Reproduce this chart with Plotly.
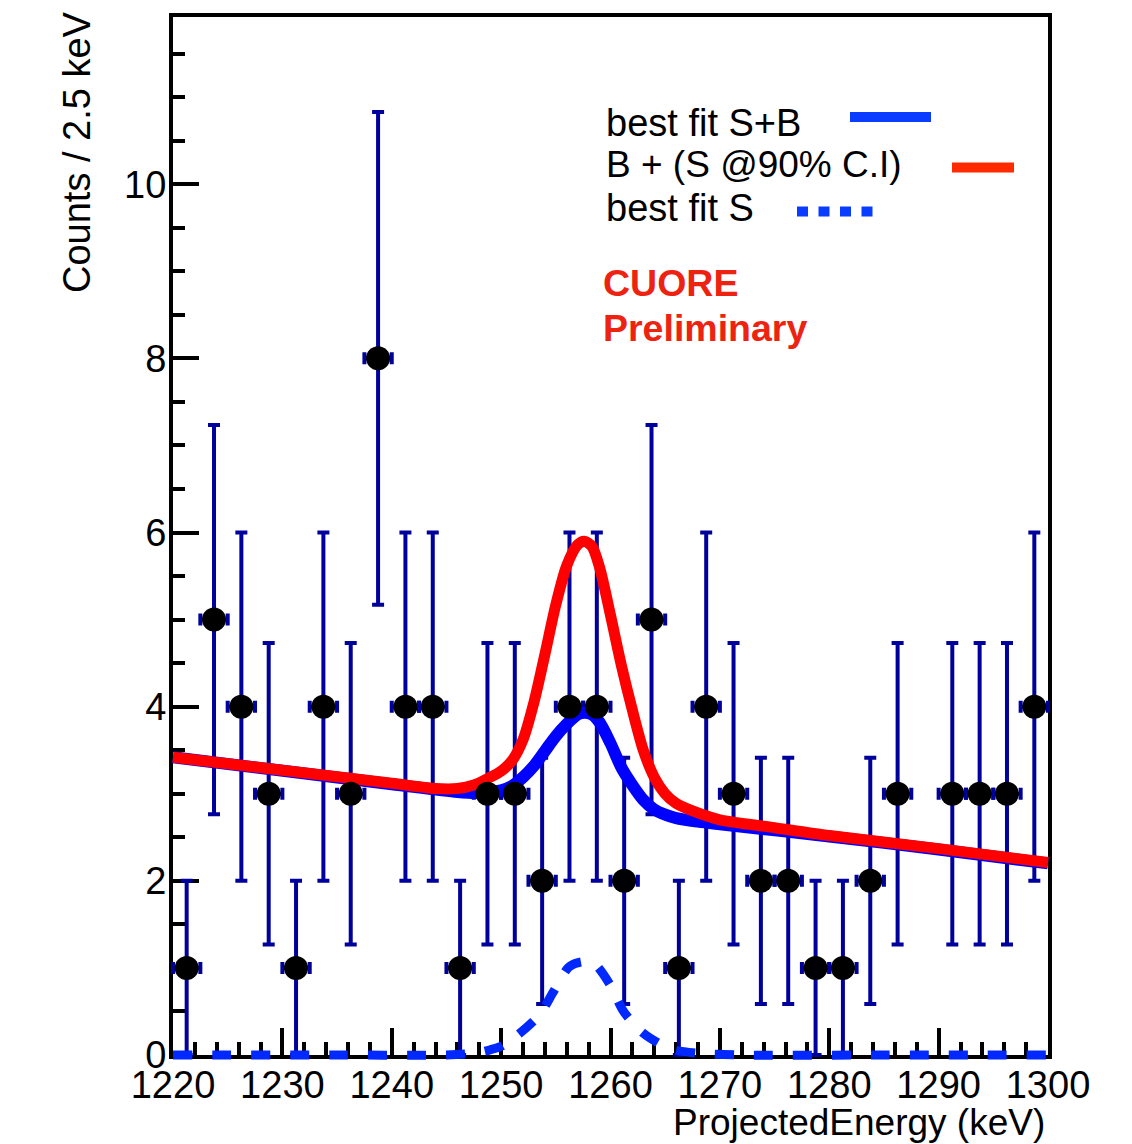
import numpy as np
import plotly.graph_objects as go

# ---------------- data ----------------
bin_centers = [1221.25 + 2.5 * i for i in range(32)]
counts = [1, 5, 4, 3, 1, 4, 3, 8, 4, 4, 1, 3, 3, 2, 4, 4,
          2, 5, 1, 4, 3, 2, 2, 1, 1, 2, 3, 0, 3, 3, 3, 4]
bin_half_width = 1.25

# B + (S @90% C.I)
red_x = [1220, 1230, 1240, 1244, 1246, 1247.5, 1249, 1250, 1251, 1252, 1253, 1254,
         1255, 1256, 1257, 1257.6, 1258.3, 1259, 1260, 1261, 1262, 1263, 1264,
         1265, 1266, 1268, 1270, 1275, 1280, 1290, 1300]
red_y = [3.42, 3.27, 3.12, 3.06, 3.06, 3.10, 3.19, 3.26, 3.38, 3.62, 4.05, 4.60,
         5.17, 5.62, 5.86, 5.90, 5.84, 5.60, 5.05, 4.47, 3.96, 3.50, 3.19,
         3.00, 2.89, 2.78, 2.70, 2.61, 2.52, 2.37, 2.21]

# best fit S+B
blue_x = [1220, 1240, 1246, 1248, 1250, 1251, 1252, 1253, 1254, 1255, 1256, 1257,
          1257.6, 1258.3, 1259, 1260, 1261, 1262, 1263, 1264, 1265, 1266, 1268,
          1270, 1280, 1290, 1300]
blue_y = [3.42, 3.11, 3.02, 3.01, 3.04, 3.09, 3.19, 3.32, 3.49, 3.66, 3.80, 3.91,
          3.93, 3.91, 3.82, 3.58, 3.30, 3.10, 2.93, 2.82, 2.76, 2.72, 2.68,
          2.65, 2.51, 2.36, 2.20]

# best fit S
sig_x = [1220, 1235, 1245, 1247.5, 1249, 1250, 1251.5, 1253.5, 1254.8, 1256.2, 1257.4,
         1258.5, 1260, 1261.2, 1263, 1265.5, 1268, 1272, 1285, 1300]
sig_y = [0, 0, 0, 0.02, 0.06, 0.10, 0.23, 0.46, 0.73, 1.01, 1.07,
         1.05, 0.80, 0.50, 0.25, 0.07, 0.02, 0, 0, 0]

x_range = [1220, 1300]
y_range = [0, 11.92]

# ---------------- geometry ----------------
W, H = 1132, 1144
L, R, T, B = 173, 1048, 17, 1055  # plot box in pixels

def px(x):
    return x / W

def py(y):
    return 1 - y / H

ppx = (R - L) / (x_range[1] - x_range[0])
ppy = (B - T) / (y_range[1] - y_range[0])
x2_range = [x_range[0] - L / ppx, x_range[1] + (W - R) / ppx]
y2_range = [y_range[0] - (H - B) / ppy, y_range[1] + T / ppy]

FONT = "Liberation Sans, Arial, Helvetica, sans-serif"
NAVY = "#00009c"
TXT = 38

xs = [x for x, c in zip(bin_centers, counts) if c > 0]
ys = [c for c in counts if c > 0]
errs = [float(np.sqrt(c)) for c in ys]

fig = go.Figure()

# invisible trace for the framed axes
fig.add_trace(go.Scatter(x=[1250], y=[5], xaxis="x", yaxis="y", mode="markers",
                         marker=dict(size=1, opacity=0), showlegend=False, hoverinfo="skip"))

# error bars
fig.add_trace(go.Scatter(
    x=xs, y=ys, mode="markers", xaxis="x2", yaxis="y2",
    marker=dict(size=1, opacity=0),
    error_y=dict(type="data", array=errs, visible=True, color=NAVY, thickness=4, width=6),
    error_x=dict(type="constant", value=bin_half_width, visible=True, color=NAVY, thickness=4, width=6),
    showlegend=False, hoverinfo="skip"))

# best fit S (dotted)
fig.add_trace(go.Scatter(
    x=sig_x, y=sig_y, mode="lines", xaxis="x2", yaxis="y2",
    line=dict(color="#0028ff", width=9, dash="19px,20px", shape="spline", smoothing=0.8),
    showlegend=False))

# best fit S+B
fig.add_trace(go.Scatter(
    x=blue_x, y=blue_y, mode="lines", xaxis="x2", yaxis="y2",
    line=dict(color="#0000ff", width=12, shape="spline", smoothing=0.8),
    showlegend=False))

# B + S @90%
fig.add_trace(go.Scatter(
    x=red_x, y=red_y, mode="lines", xaxis="x2", yaxis="y2",
    line=dict(color="#ff0000", width=11, shape="spline", smoothing=0.8),
    showlegend=False))

# data markers
fig.add_trace(go.Scatter(
    x=xs, y=ys, mode="markers", xaxis="x2", yaxis="y2",
    marker=dict(size=24, color="black", line=dict(width=0)),
    showlegend=False))

axis_common = dict(
    showgrid=False, zeroline=False, showline=True, linecolor="black", linewidth=4,
    mirror=True, ticks="inside", tickcolor="black", tickwidth=4,
    tickfont=dict(family=FONT, size=TXT, color="black"), automargin=False,
)

fig.update_layout(
    width=W, height=H, autosize=False,
    margin=dict(l=0, r=0, t=0, b=0),
    paper_bgcolor="white", plot_bgcolor="rgba(0,0,0,0)",
    xaxis=dict(domain=[px(L), px(R)], range=x_range, dtick=10, tick0=1220, ticklen=27,
               ticklabelstandoff=-7,
               minor=dict(dtick=2, ticklen=13, tickwidth=4, ticks="inside", tickcolor="black"),
               anchor="y", **axis_common),
    yaxis=dict(domain=[py(B), py(T)], range=y_range, dtick=2, tick0=0, ticklen=26,
               ticklabelstandoff=-5,
               minor=dict(dtick=0.5, ticklen=12, tickwidth=4, ticks="inside", tickcolor="black"),
               anchor="x", **axis_common),
    xaxis2=dict(domain=[0, 1], range=x2_range, visible=False, anchor="y2"),
    yaxis2=dict(domain=[0, 1], range=y2_range, visible=False, anchor="x2"),
    showlegend=False,
)

annotations = [
    dict(text="Counts / 2.5 keV", x=px(77), y=py(152), textangle=-90,
         xanchor="center", yanchor="middle", font=dict(size=TXT, color="black")),
    dict(text="ProjectedEnergy (keV)", x=px(1047), y=py(1122),
         xanchor="right", yanchor="middle", font=dict(size=37, color="black")),
    dict(text="best fit S+B", x=px(604), y=py(123), xanchor="left", yanchor="middle",
         font=dict(size=TXT, color="black")),
    dict(text="B + (S @90% C.I)", x=px(604), y=py(165), xanchor="left", yanchor="middle",
         font=dict(size=37, color="black")),
    dict(text="best fit S", x=px(604), y=py(208), xanchor="left", yanchor="middle",
         font=dict(size=TXT, color="black")),
    dict(text="<b>CUORE</b>", x=px(601), y=py(283), xanchor="left", yanchor="middle",
         font=dict(size=37.5, color="#ee2211")),
    dict(text="<b>Preliminary</b>", x=px(601), y=py(328), xanchor="left", yanchor="middle",
         font=dict(size=37.5, color="#ee2211")),
]
for a in annotations:
    a.update(xref="paper", yref="paper", showarrow=False)
    a["font"]["family"] = FONT
fig.update_layout(annotations=annotations)

shapes = [
    dict(type="line", x0=px(850), x1=px(931), y0=py(117), y1=py(117),
         line=dict(color="#0a3cff", width=10)),
    dict(type="line", x0=px(952), x1=px(1014), y0=py(167.5), y1=py(167.5),
         line=dict(color="#ff2a00", width=10)),
    dict(type="line", x0=px(797), x1=px(873), y0=py(211.5), y1=py(211.5),
         line=dict(color="#0a3cff", width=10, dash="11px,10.5px")),
]
for s in shapes:
    s.update(xref="paper", yref="paper", layer="above")
fig.update_layout(shapes=shapes)

fig.write_html("out.html", config={"displayModeBar": False},
               post_script="document.body.style.margin='0px';")
